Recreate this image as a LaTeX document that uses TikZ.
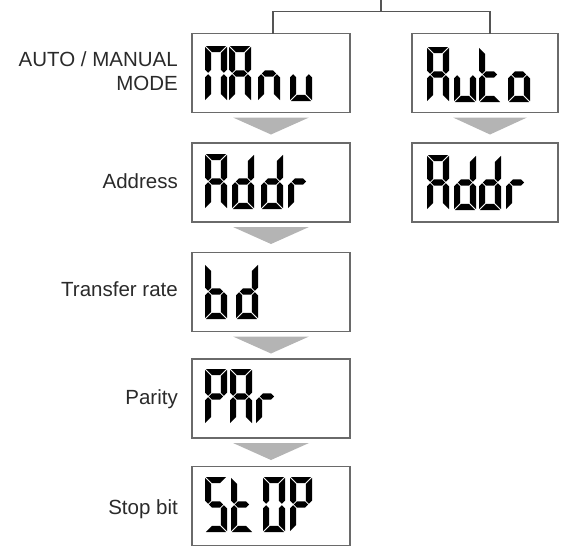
\documentclass[tikz,border=0pt]{standalone}
\usepackage{fontspec}
\setmainfont{Liberation Sans}
\usetikzlibrary{calc}
\definecolor{boxline}{HTML}{6A6A6A}
\definecolor{brline}{HTML}{555555}
\definecolor{arrowgray}{HTML}{B4B4B4}
\definecolor{lbltext}{HTML}{2A2A2A}
% seven-segment glyph, 22 x 55 units, origin top-left, y downward
\newcommand\lcdsega{\fill[lcdink] (0.8,0) -- (21.2,0) -- (15.0,6.2) -- (7.0,6.2) -- cycle;}
\newcommand\lcdsegg{\fill[lcdink] (3.8,27.5) -- (6.9,24.4) -- (15.1,24.4) -- (18.2,27.5) -- (15.1,30.6) -- (6.9,30.6) -- cycle;}
\newcommand\lcdsegd{\fill[lcdink] (0.8,55) -- (21.2,55) -- (15.0,48.8) -- (7.0,48.8) -- cycle;}
\newcommand\lcdsegf{\fill[lcdink] (0,0.8) -- (6.2,7.0) -- (6.2,23.7) -- (3.1,26.8) -- (0,23.7) -- cycle;}
\newcommand\lcdsegb{\fill[lcdink] (22,0.8) -- (22,23.7) -- (18.9,26.8) -- (15.8,23.7) -- (15.8,7.0) -- cycle;}
\newcommand\lcdsege{\fill[lcdink] (3.1,28.2) -- (6.2,31.3) -- (6.2,48.0) -- (0,54.2) -- (0,31.3) -- cycle;}
\newcommand\lcdsegc{\fill[lcdink] (18.9,28.2) -- (22,31.3) -- (22,54.2) -- (15.8,48.0) -- (15.8,31.3) -- cycle;}
\newcommand\lcd[2]{\begin{scope}[shift={#1}]\foreach \s in {#2}{\csname lcdseg\s\endcsname}\end{scope}}
\begin{document}
\begin{tikzpicture}[x=1pt,y=-1pt,
  lcdink/.style={fill=black},
  dispbox/.style={draw=boxline,line width=1.1pt,fill=white,inner sep=0pt,outer sep=0pt,minimum height=79pt},
  leftbox/.style={dispbox,minimum width=158pt},
  rightbox/.style={dispbox,minimum width=146pt},
  lbl/.style={font=\fontsize{20.5}{24}\selectfont,text=lbltext,inner sep=0pt,anchor=base east},
  bracket/.style={draw=brline,line width=1.3pt},
  flowarrow/.style={fill=arrowgray}]
\useasboundingbox (0,0) rectangle (564,546);
% display boxes
\node[leftbox] (m1) at (271,73) {};
\node[leftbox] (m2) at (271,182.5) {};
\node[leftbox] (m3) at (271,292) {};
\node[leftbox] (m4) at (271,398.5) {};
\node[leftbox] (m5) at (271,506) {};
\node[rightbox] (r1) at (485,73) {};
\node[rightbox] (r2) at (485,182.5) {};
% labels
\node[lbl] (l1a) at (178,66) {AUTO / MANUAL};
\node[lbl] (l1b) at (178,90) {MODE};
\node[lbl] (l2) at (178,188) {Address};
\node[lbl] (l3) at (178,296) {Transfer rate};
\node[lbl] (l4) at (178,404.5) {Parity};
\node[lbl] (l5) at (178,514.5) {Stop bit};
% bracket
\coordinate (feed) at (381,0);
\coordinate (hb) at (381,11);
\draw[bracket] (feed) -- (hb);
\draw[bracket] ($(m1.north)+(2,0)$) -- ++(0,-22) -| ($(r1.north)+(5,0)$);
% flow arrows
\foreach \u in {m1,m2,m3,m4}{
  \fill[flowarrow] ($(\u.south)+(-38,5)$) -- ($(\u.south)+(38,5)$) -- ($(\u.south)+(0,22)$) -- cycle;
}
\fill[flowarrow] ($(r1.south)+(-32,5)$) -- ($(r1.south)+(42,5)$) -- ($(r1.south)+(5,22)$) -- cycle;
% MAnu
\lcd{(205,46)}{a,b,c,e,f}
\lcd{(229,46)}{a,b,c,e,f,g}
\lcd{(258,46)}{c,e,g}
\lcd{(290,46)}{c,d,e}
% Auto
\lcd{(427,47)}{a,b,c,e,f,g}
\lcd{(454,47)}{c,d,e}
\lcd{(479,47)}{d,e,f,g}
\lcd{(508,47)}{c,d,e,g}
% Addr (left)
\lcd{(205,154)}{a,b,c,e,f,g}
\lcd{(232,154)}{b,c,d,e,g}
\lcd{(261,154)}{b,c,d,e,g}
\lcd{(288,154)}{e,g}
% Addr (right)
\lcd{(427,155)}{a,b,c,e,f,g}
\lcd{(454,155)}{b,c,d,e,g}
\lcd{(479,155)}{b,c,d,e,g}
\lcd{(506,155)}{e,g}
% bd
\lcd{(205,264)}{c,d,e,f,g}
\lcd{(236,264)}{b,c,d,e,g}
% PAr
\lcd{(205,369)}{a,b,e,f,g}
\lcd{(230,369)}{a,b,c,e,f,g}
\lcd{(256,369)}{e,g}
% StOP
\lcd{(205,477)}{a,c,d,f,g}
\lcd{(231,477)}{d,e,f,g}
\lcd{(263,477)}{a,b,c,d,e,f}
\lcd{(290,477)}{a,b,e,f,g}
\end{tikzpicture}
\end{document}
